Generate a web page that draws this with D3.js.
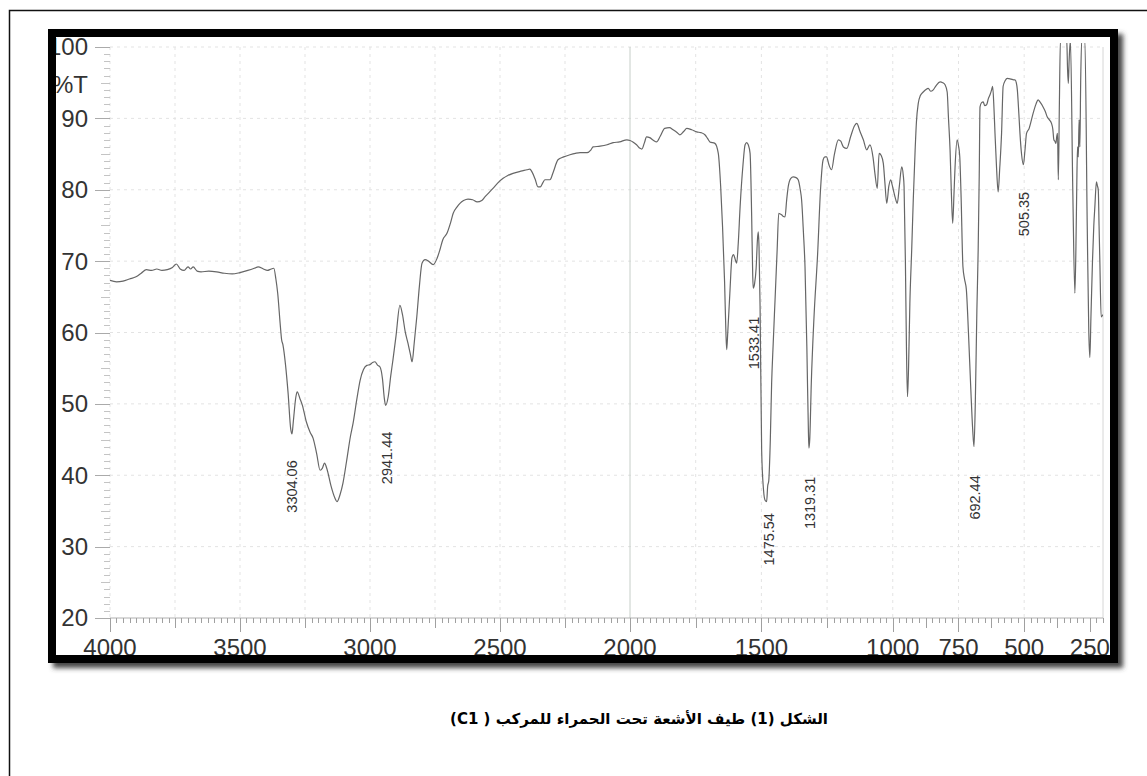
<!DOCTYPE html>
<html>
<head>
<meta charset="utf-8">
<script src="https://cdn.jsdelivr.net/npm/d3@7"></script>
<style>
  html, body { margin: 0; padding: 0; background: #fff; }
  svg { display: block; }
</style>
</head>
<body>
<script>
const W = 1147;
const H = 776;

// IR spectrum: [wavenumber cm-1, %T]
const spectrum = [
  [4000, 67.3], [3975, 67.1], [3950, 67.2], [3925, 67.5], [3900, 67.8], [3880, 68.3],
  [3860, 68.8], [3840, 68.7], [3820, 68.9], [3800, 68.7], [3780, 68.8], [3760, 69.1],
  [3745, 69.6], [3730, 68.9], [3715, 68.7], [3700, 69.2], [3690, 68.9], [3680, 69.2],
  [3665, 68.6], [3650, 68.5], [3620, 68.6], [3590, 68.5], [3560, 68.3], [3530, 68.2],
  [3500, 68.4], [3470, 68.7], [3445, 69.0], [3430, 69.2], [3410, 68.9], [3395, 68.7],
  [3380, 68.9], [3370, 69.0], [3362, 67.5], [3355, 65.5], [3345, 61.0], [3340, 59.0],
  [3335, 58.3], [3325, 55.5], [3315, 51.5], [3305, 46.5], [3300, 45.8], [3295, 47.5],
  [3285, 51.0], [3280, 51.7], [3270, 50.8], [3260, 49.8], [3245, 47.5], [3230, 46.0],
  [3219, 45.2], [3205, 43.0], [3192, 40.7], [3183, 41.0], [3175, 41.7], [3165, 40.8],
  [3150, 38.5], [3135, 36.8], [3127, 36.3], [3115, 37.3], [3104, 38.9], [3090, 42.0],
  [3075, 45.5], [3065, 47.3], [3050, 50.8], [3038, 53.3], [3025, 54.8], [3012, 55.4],
  [3000, 55.5], [2990, 55.8], [2981, 55.9], [2970, 55.4], [2962, 55.2], [2952, 53.5],
  [2945, 50.8], [2940, 49.8], [2930, 51.0], [2920, 54.0], [2912, 56.1], [2900, 59.5],
  [2885, 63.8], [2875, 62.5], [2865, 60.2], [2854, 58.5], [2845, 57.0], [2838, 55.9],
  [2830, 58.5], [2820, 62.2], [2810, 66.5], [2800, 69.7], [2788, 70.2], [2775, 70.0],
  [2757, 69.5], [2742, 70.4], [2731, 71.6], [2720, 73.0], [2704, 73.9], [2690, 75.4],
  [2680, 76.7], [2665, 77.6], [2654, 78.1], [2640, 78.5], [2623, 78.7], [2605, 78.6],
  [2588, 78.3], [2570, 78.5], [2558, 79.0], [2545, 79.5], [2527, 80.2], [2510, 80.9],
  [2488, 81.6], [2470, 82.0], [2450, 82.3], [2420, 82.6], [2396, 82.8], [2385, 82.9],
  [2377, 82.5], [2365, 81.5], [2354, 80.4], [2345, 80.4], [2335, 81.0], [2327, 81.4],
  [2308, 81.4], [2295, 82.5], [2277, 84.2], [2255, 84.6], [2231, 84.9], [2210, 85.1],
  [2192, 85.2], [2165, 85.2], [2150, 85.6], [2142, 86.0], [2115, 86.1], [2088, 86.3],
  [2065, 86.6], [2040, 86.7], [2012, 87.0], [2000, 86.9], [1989, 86.7], [1975, 86.3],
  [1962, 85.8], [1955, 85.7], [1945, 86.6], [1937, 87.4], [1925, 87.3], [1910, 86.9],
  [1899, 86.7], [1885, 87.5], [1868, 88.6], [1850, 88.7], [1836, 88.4], [1820, 88.0],
  [1810, 87.7], [1795, 88.2], [1784, 88.6], [1765, 88.4], [1746, 88.1], [1730, 88.0],
  [1715, 87.7], [1705, 87.2], [1696, 86.7], [1677, 86.5], [1664, 85.1], [1655, 80.5],
  [1648, 75.0], [1640, 67.0], [1635, 60.0], [1632, 57.6], [1628, 60.0], [1620, 65.5],
  [1612, 70.5], [1606, 70.9], [1600, 70.3], [1594, 69.7], [1588, 72.5], [1581, 77.6],
  [1570, 83.5], [1562, 86.3], [1556, 86.6], [1550, 86.3], [1543, 85.1], [1537, 76.3],
  [1533, 68.0], [1531, 66.2], [1526, 66.8], [1520, 69.0], [1515, 73.0], [1512, 74.1],
  [1509, 72.0], [1505, 63.6], [1499, 43.5], [1492, 38.0], [1486, 36.5], [1480, 36.3],
  [1476, 38.5], [1472, 39.2], [1466, 45.0], [1461, 52.9], [1455, 58.5], [1448, 64.6],
  [1440, 71.6], [1434, 76.7], [1428, 76.6], [1423, 76.5], [1418, 76.3], [1410, 76.2],
  [1404, 78.5], [1398, 80.4], [1388, 81.6], [1379, 81.8], [1368, 81.7], [1360, 81.4],
  [1352, 80.0], [1347, 78.6], [1340, 74.0], [1334, 69.2], [1327, 58.0], [1321, 46.0],
  [1319, 43.8], [1316, 45.0], [1310, 53.0], [1300, 62.0], [1286, 71.0], [1275, 80.0],
  [1265, 84.2], [1258, 84.6], [1252, 84.6], [1243, 83.5], [1233, 82.8], [1222, 85.0],
  [1207, 87.0], [1198, 86.8], [1188, 86.0], [1175, 85.8], [1160, 87.5], [1145, 89.0],
  [1137, 89.3], [1125, 88.2], [1112, 87.0], [1099, 85.6], [1087, 86.3], [1075, 84.5],
  [1068, 82.3], [1059, 80.2], [1052, 85.1], [1044, 84.8], [1036, 83.7], [1030, 81.0],
  [1023, 78.1], [1015, 80.5], [1008, 81.4], [1003, 80.8], [998, 80.0], [990, 78.8],
  [983, 78.1], [975, 80.5], [966, 83.2], [960, 82.0], [957, 80.4], [952, 70.0],
  [948, 58.0], [944, 51.0], [940, 55.0], [935, 64.0], [928, 71.6], [922, 78.6],
  [915, 85.5], [910, 89.5], [903, 92.1], [895, 93.2], [884, 93.7], [875, 94.0],
  [865, 94.2], [856, 93.8], [846, 94.0], [835, 94.6], [820, 95.1], [810, 95.0],
  [801, 94.7], [793, 93.7], [788, 90.0], [782, 85.6], [777, 79.5], [772, 75.3],
  [767, 79.5], [763, 83.2], [755, 87.0], [750, 86.2], [745, 84.6], [740, 79.0],
  [733, 69.2], [727, 67.5], [720, 66.0], [712, 60.0], [703, 52.0], [696, 46.5],
  [691, 44.0], [686, 50.0], [680, 63.0], [675, 71.6], [671, 82.0], [668, 91.6],
  [662, 92.2], [656, 92.3], [650, 91.8], [643, 91.9], [636, 92.8], [630, 93.3],
  [624, 94.0], [620, 94.5], [615, 91.5], [611, 87.9], [605, 83.0], [599, 79.7],
  [593, 83.0], [586, 87.9], [580, 94.5], [572, 95.3], [564, 95.6], [550, 95.5],
  [540, 95.4], [535, 95.4], [530, 95.0], [526, 94.0], [520, 90.5], [516, 87.9],
  [510, 85.0], [503, 83.5], [497, 85.5], [491, 87.9], [481, 88.6], [475, 89.4],
  [466, 90.7], [455, 92.0], [447, 92.6], [440, 92.3], [428, 91.6], [420, 91.0],
  [412, 90.2], [404, 89.8], [396, 89.3], [391, 88.5], [387, 87.0], [383, 86.8],
  [379, 86.5], [376, 87.5], [373, 87.9], [370, 81.4], [366, 92.0], [362, 101],
  [338, 101], [335, 97.0], [332, 94.9], [329, 98.0], [324, 101], [315, 80.0],
  [307, 65.5], [303, 72.0], [300, 80.0], [297, 86.0], [294, 84.6], [291, 89.8],
  [288, 86.0], [285, 95.0], [281, 101], [269, 101], [260, 75.0], [254, 60.0],
  [250, 56.5], [246, 62.0], [240, 70.0], [235, 75.0], [231, 77.6], [225, 81.1],
  [221, 80.5], [218, 80.0], [215, 75.0], [212, 70.0], [207, 62.2], [200, 62.5]
];

// annotated peaks, and the %T level where each rotated label starts
const peakWaves = [3304.06, 2941.44, 1533.41, 1475.54, 1319.31, 692.44, 505.35];
const peakLabels = ["3304.06", "2941.44", "1533.41", "1475.54", "1319.31", "692.44", "505.35"];
const peakLabelTopT = [42.1, 46.1, 62.2, 34.7, 39.8, 40.0, 79.7];

const xTickValues = [4000, 3500, 3000, 2500, 2000, 1500, 1000, 750, 500, 250];
const xGridValues = [3750, 3500, 3250, 3000, 2750, 2500, 2250, 1750, 1500, 1250, 1000, 750, 500];
const yTickValues = [100, 90, 80, 70, 60, 50, 40, 30, 20];
const yLabel = "%T";
const caption = "الشكل (1) طيف الأشعة تحت الحمراء للمركب ( C1)";

const NUM_FONT = "'Liberation Sans', Arial, sans-serif";
const GRID = "#e3e3e3";

const svg = d3.select("body").append("svg")
    .attr("width", W)
    .attr("height", H);

// scale changes at 2000 cm-1 like the instrument printout
const x = d3.scaleLinear().domain([4000, 2000, 200]).range([110, 630, 1103]);
const y = d3.scaleLinear().domain([20, 100]).range([618, 47]);

const defs = svg.append("defs");
defs.append("filter").attr("id", "blur")
    .attr("x", "-5%").attr("y", "-5%").attr("width", "110%").attr("height", "110%")
  .append("feGaussianBlur").attr("stdDeviation", 2.5);
defs.append("clipPath").attr("id", "plotClip")
  .append("rect").attr("x", 110).attr("y", 43).attr("width", 993).attr("height", 575);

// outer page box
svg.append("path")
    .attr("d", `M9.5,${H} V10.5 H${W}`)
    .attr("fill", "none")
    .attr("stroke", "#111")
    .attr("stroke-width", 1.5);

// frame shadow + white inside
svg.append("rect")
    .attr("x", 53).attr("y", 34).attr("width", 1070).attr("height", 634)
    .attr("fill", "#444").attr("filter", "url(#blur)");
svg.append("rect")
    .attr("x", 48).attr("y", 29).attr("width", 1070).attr("height", 634)
    .attr("fill", "#fff");

const plot = svg.append("g");

// grid
plot.selectAll(".hgrid")
    .data(yTickValues.filter(d => d > 20))
    .enter().append("line")
    .attr("x1", 110).attr("x2", 1103)
    .attr("y1", d => y(d)).attr("y2", d => y(d))
    .attr("stroke", GRID).attr("stroke-width", 1)
    .attr("stroke-dasharray", "3,4");
plot.selectAll(".vgrid")
    .data(xGridValues)
    .enter().append("line")
    .attr("x1", d => x(d)).attr("x2", d => x(d))
    .attr("y1", y(100)).attr("y2", y(20))
    .attr("stroke", GRID).attr("stroke-width", 1)
    .attr("stroke-dasharray", "3,4");
plot.append("line")
    .attr("x1", 110).attr("x2", 110).attr("y1", y(100)).attr("y2", y(20))
    .attr("stroke", GRID).attr("stroke-dasharray", "3,4");
plot.append("line")
    .attr("x1", x(2000)).attr("x2", x(2000)).attr("y1", y(100)).attr("y2", y(20))
    .attr("stroke", "#c6cec8").attr("stroke-width", 1);
plot.append("line")
    .attr("x1", x(200)).attr("x2", x(200)).attr("y1", y(100)).attr("y2", y(20))
    .attr("stroke", "#d6d6d6").attr("stroke-width", 1);
plot.append("line")
    .attr("x1", 110).attr("x2", x(200)).attr("y1", y(20)).attr("y2", y(20))
    .attr("stroke", "#b0b0b0").attr("stroke-width", 1);

// y ticks (every 1 %T)
const yMinor = d3.range(20, 100.5, 1);
plot.selectAll(".ytick")
    .data(yMinor)
    .enter().append("line")
    .attr("x1", d => d % 10 === 0 ? 95 : (d % 5 === 0 ? 101 : 104))
    .attr("x2", 110)
    .attr("y1", d => Math.round(y(d)) + 0.5).attr("y2", d => Math.round(y(d)) + 0.5)
    .attr("stroke", d => d % 10 === 0 ? "#aaa" : "#c4c4c4")
    .attr("stroke-width", 1);

// x ticks (every 25 cm-1)
const xMinor = d3.range(4000, 199, -25);
const xMid = [3750, 3250, 2750, 2250, 1750, 1250, 875, 625, 375];
plot.selectAll(".xtick")
    .data(xMinor)
    .enter().append("line")
    .attr("x1", d => Math.round(x(d)) + 0.5).attr("x2", d => Math.round(x(d)) + 0.5)
    .attr("y1", y(20))
    .attr("y2", d => y(20) + (xTickValues.includes(d) ? 14 : (xMid.includes(d) ? 10 : 5)))
    .attr("stroke", "#a0a0a0")
    .attr("stroke-width", 1);

// spectrum
const line = d3.line()
    .x(d => x(d[0]))
    .y(d => y(d[1]))
    .curve(d3.curveMonotoneX);
plot.append("path")
    .datum(spectrum)
    .attr("clip-path", "url(#plotClip)")
    .attr("d", line)
    .attr("fill", "none")
    .attr("stroke", "#666")
    .attr("stroke-width", 1.2)
    .attr("stroke-linejoin", "round");

// peak labels, rotated
plot.selectAll(".peak")
    .data(peakWaves)
    .enter().append("text")
    .attr("transform", (d, i) => `translate(${x(d) + 2.5},${y(peakLabelTopT[i])}) rotate(-90)`)
    .attr("text-anchor", "end")
    .attr("dominant-baseline", "middle")
    .attr("font-family", NUM_FONT)
    .attr("font-size", 14.5)
    .attr("fill", "#333")
    .text((d, i) => peakLabels[i]);

// axis labels
plot.selectAll(".ylab")
    .data(yTickValues)
    .enter().append("text")
    .attr("x", 88)
    .attr("y", d => y(d))
    .attr("dy", "0.35em")
    .attr("text-anchor", "end")
    .attr("font-family", NUM_FONT)
    .attr("font-size", 24)
    .attr("fill", "#333")
    .text(d => d);
plot.append("text")
    .attr("x", 88)
    .attr("y", y(94.8))
    .attr("dy", "0.35em")
    .attr("text-anchor", "end")
    .attr("font-family", NUM_FONT)
    .attr("font-size", 24)
    .attr("fill", "#333")
    .text(yLabel);
plot.selectAll(".xlab")
    .data(xTickValues)
    .enter().append("text")
    .attr("x", d => x(d))
    .attr("y", 656)
    .attr("text-anchor", "middle")
    .attr("font-family", NUM_FONT)
    .attr("font-size", 24)
    .attr("fill", "#333")
    .text(d => d);

// thick black frame on top
svg.append("rect")
    .attr("x", 52).attr("y", 33).attr("width", 1062).attr("height", 626)
    .attr("fill", "none")
    .attr("stroke", "#000")
    .attr("stroke-width", 8);

// caption
svg.append("text")
    .attr("x", 639)
    .attr("y", 724)
    .attr("direction", "rtl")
    .attr("text-anchor", "middle")
    .attr("font-family", "'DejaVu Sans', 'Noto Sans', sans-serif")
    .attr("font-weight", "bold")
    .attr("font-size", 15)
    .attr("fill", "#000")
    .text(caption);
</script>
</body>
</html>
